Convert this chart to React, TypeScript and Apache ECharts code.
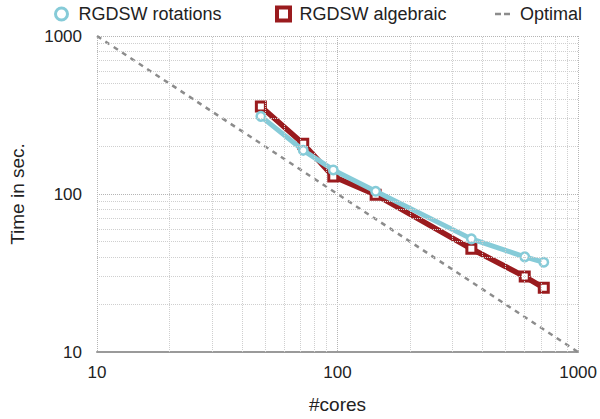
import React, { useEffect, useRef } from 'react';
import * as echarts from 'echarts';

const cores = [48, 72, 96, 144, 360, 600, 720];
const rotations = [310, 189, 142, 104, 52, 40, 37];
const algebraic = [358, 208, 129, 99, 45, 30, 25.5];
const optimalCores = [10, 1000];
const optimalTime = [1000, 10];
const minorGrid = [20, 30, 40, 50, 60, 70, 80, 90, 200, 300, 400, 500, 600, 700, 800, 900];

const FONT = '"Liberation Sans", Arial, Helvetica, sans-serif';
const BLUE = '#86CBD8';
const RED = '#9A1B1E';
const GRAY = '#8c8c8c';
const TEXT = '#222';

export default function App() {
  const ref = useRef<HTMLDivElement>(null);
  useEffect(() => {
    if (!ref.current) return;
    const chart = echarts.init(ref.current, undefined, { renderer: 'svg' });
    const legendText = { fontSize: 18, color: TEXT, fontFamily: FONT };
    const option: any = {
      animation: false,
      backgroundColor: '#fff',
      textStyle: { fontFamily: FONT },
      grid: { left: 96, top: 36, width: 484, height: 319, containLabel: false },
      legend: [
        {
          left: 49, top: 0, itemWidth: 24, itemHeight: 12, selectedMode: false,
          textStyle: legendText,
          data: [{
            name: 'RGDSW rotations',
            icon: 'path://M6,0A6,6,0,1,1,6,12A6,6,0,1,1,6,0z',
            itemStyle: { color: '#fff', borderColor: BLUE, borderWidth: 3 },
          }],
        },
        {
          left: 270, top: 0, itemWidth: 22, itemHeight: 13, selectedMode: false,
          textStyle: legendText,
          data: [{
            name: 'RGDSW algebraic',
            icon: 'path://M0,0h13v13h-13z',
            itemStyle: { color: '#fff', borderColor: RED, borderWidth: 4 },
          }],
        },
        {
          left: 490, top: 0, itemWidth: 25, itemHeight: 2.5, selectedMode: false,
          textStyle: legendText,
          data: [{
            name: 'Optimal',
            icon: 'path://M0,0h6v2.5h-6z M9,0h6v2.5h-6z',
            itemStyle: { color: GRAY, borderWidth: 0 },
          }],
        },
      ],
      xAxis: {
        type: 'log', logBase: 10, min: 10, max: 1000,
        name: '#cores', nameLocation: 'middle', nameGap: 43,
        nameTextStyle: { fontSize: 19, color: TEXT, fontFamily: FONT },
        axisLine: { show: true, onZero: false, lineStyle: { color: '#9a9a9a', width: 2 } },
        axisTick: { show: false },
        axisLabel: { fontSize: 17, color: TEXT, margin: 12, fontFamily: FONT, formatter: (v: number) => String(v) },
        splitLine: { show: true, lineStyle: { type: 'dotted', color: '#b5b5b5', width: 1 } },
      },
      yAxis: {
        type: 'log', logBase: 10, min: 10, max: 1000,
        name: 'Time in sec.', nameLocation: 'middle', nameGap: 70,
        nameTextStyle: { fontSize: 19, color: TEXT, fontFamily: FONT },
        axisLine: { show: false },
        axisTick: { show: false },
        axisLabel: { fontSize: 17, color: TEXT, margin: 15, fontFamily: FONT, formatter: (v: number) => String(v) },
        splitLine: { show: true, lineStyle: { type: 'dotted', color: '#b5b5b5', width: 1 } },
      },
      series: [
        {
          name: 'Optimal', type: 'line', z: 1,
          data: optimalCores.map((c, i) => [c, optimalTime[i]]),
          symbol: 'none',
          lineStyle: { color: GRAY, width: 2.5, type: [5, 5] },
          itemStyle: { color: GRAY },
          markLine: {
            silent: true, symbol: 'none', label: { show: false },
            lineStyle: { type: 'dotted', color: '#cfcfcf', width: 1 },
            emphasis: { disabled: true },
            data: [
              ...minorGrid.map((v) => ({ xAxis: v })),
              ...minorGrid.map((v) => ({ yAxis: v })),
            ],
          },
        },
        {
          name: 'RGDSW algebraic', type: 'line', z: 3,
          data: cores.map((c, i) => [c, algebraic[i]]),
          symbol: 'rect', symbolSize: 9,
          lineStyle: { color: RED, width: 5.5 },
          itemStyle: { color: '#fff', borderColor: RED, borderWidth: 3 },
        },
        {
          name: 'RGDSW rotations', type: 'line', z: 4,
          data: cores.map((c, i) => [c, rotations[i]]),
          symbol: 'circle', symbolSize: 8.5,
          lineStyle: { color: BLUE, width: 5 },
          itemStyle: { color: '#fff', borderColor: BLUE, borderWidth: 2.5 },
        },
      ],
    };
    chart.setOption(option);
    return () => chart.dispose();
  }, []);
  return (
    <div
      ref={ref}
      style={{ position: 'absolute', left: 0, top: 0, width: 600, height: 419, background: '#fff' }}
    />
  );
}
